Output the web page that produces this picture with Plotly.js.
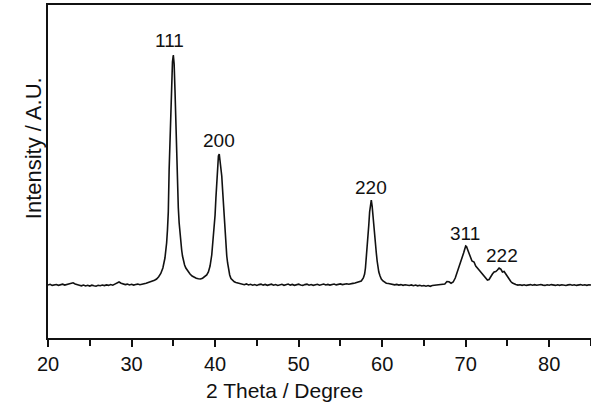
<!DOCTYPE html>
<html>
<head>
<meta charset="utf-8">
<script src="https://cdn.plot.ly/plotly-3.0.1.min.js"></script>
<style>html,body{margin:0;padding:0;background:#fff;}#chart{width:591px;height:413px;}</style>
</head>
<body>
<div id="chart"></div>
<script>
// 2 Theta (degree)
const twoTheta = [
20.00,20.25,20.50,20.75,21.00,21.25,21.50,21.75,22.00,22.25,22.50,22.75,23.00,23.25,23.50,23.75,
24.00,24.25,24.50,24.75,25.00,25.25,25.50,25.75,26.00,26.25,26.50,26.75,27.00,27.25,27.50,27.75,
28.00,28.25,28.50,28.75,29.00,29.25,29.50,29.75,30.00,30.25,30.50,30.75,31.00,31.25,31.50,31.75,
32.00,32.25,32.50,32.75,33.00,33.25,33.50,33.75,34.00,34.10,34.20,34.30,34.40,34.50,34.60,34.70,
34.80,34.90,35.00,35.10,35.20,35.30,35.40,35.50,35.60,35.70,35.80,35.90,36.00,36.10,36.20,36.35,
36.50,36.75,37.00,37.25,37.50,37.75,38.00,38.25,38.50,38.75,39.00,39.20,39.40,39.60,39.80,39.90,
40.00,40.10,40.20,40.30,40.40,40.50,40.60,40.70,40.80,40.90,41.00,41.10,41.20,41.30,41.40,41.50,
41.60,41.75,41.90,42.10,42.30,42.50,42.75,43.00,43.25,43.50,43.75,44.00,44.25,44.50,44.75,45.00,
45.25,45.50,45.75,46.00,46.25,46.50,46.75,47.00,47.25,47.50,47.75,48.00,48.25,48.50,48.75,49.00,
49.25,49.50,49.75,50.00,50.25,50.50,50.75,51.00,51.25,51.50,51.75,52.00,52.25,52.50,52.75,53.00,
53.25,53.50,53.75,54.00,54.25,54.50,54.75,55.00,55.25,55.50,55.75,56.00,56.25,56.50,56.75,57.00,
57.25,57.50,57.75,57.90,58.00,58.10,58.20,58.30,58.40,58.50,58.60,58.70,58.80,58.90,59.00,59.10,
59.20,59.30,59.40,59.50,59.60,59.75,59.90,60.10,60.30,60.50,60.75,61.00,61.25,61.50,61.75,62.00,
62.25,62.50,62.75,63.00,63.25,63.50,63.75,64.00,64.25,64.50,64.75,65.00,65.25,65.50,65.75,66.00,
66.25,66.50,66.75,67.00,67.25,67.50,67.75,68.00,68.25,68.50,68.75,69.00,69.25,69.50,69.75,70.00,
70.10,70.25,70.50,70.75,71.00,71.20,71.40,71.60,71.80,72.00,72.20,72.40,72.60,72.80,73.00,73.20,
73.40,73.60,73.80,74.00,74.20,74.40,74.60,74.80,75.00,75.20,75.40,75.60,75.80,76.00,76.25,76.50,
76.75,77.00,77.25,77.50,77.75,78.00,78.25,78.50,78.75,79.00,79.25,79.50,79.75,80.00,80.25,80.50,
80.75,81.00,81.25,81.50,81.75,82.00,82.25,82.50,82.75,83.00,83.25,83.50,83.75,84.00,84.25,84.50,
84.75,85.00
];
// Intensity (a.u.)
const intensity = [
530,537,526,534,535,527,533,538,529,535,540,546,552,540,530,528,
522,530,520,527,519,528,522,518,527,523,530,524,531,526,534,528,
539,552,560,547,540,534,539,531,537,529,535,539,533,541,543,548,
555,560,568,578,590,612,645,700,800,860,950,1080,1260,1680,2000,2300,
2560,2760,2830,2740,2480,2120,1700,1450,1300,1150,1030,950,880,820,770,730,
700,665,640,620,605,598,592,590,598,610,630,660,720,830,1000,1100,
1230,1400,1580,1730,1820,1840,1770,1700,1620,1480,1330,1180,1030,910,820,750,
680,630,595,575,562,555,548,544,538,533,541,530,537,528,535,526,
534,539,529,536,527,533,538,528,535,526,532,537,527,534,539,529,
536,527,533,538,530,526,534,539,528,535,527,533,537,528,534,539,
530,536,529,535,540,531,537,541,534,539,543,537,545,546,550,555,
560,570,600,640,700,790,880,1000,1130,1260,1350,1380,1320,1210,1100,1000,
930,850,770,710,660,620,590,570,558,548,545,540,536,531,536,529,
534,527,533,528,525,531,523,529,522,527,520,525,518,524,517,525,
527,532,528,535,531,540,565,562,548,560,600,660,710,780,850,920,
915,880,820,770,760,720,700,680,650,630,620,590,580,585,620,640,
660,665,680,700,690,660,665,640,610,580,565,550,540,535,529,533,
527,532,526,531,534,528,533,527,532,535,529,526,532,528,534,529,
526,532,527,533,528,525,531,534,528,532,526,531,534,528,532,527,
533,530
];
// Peak labels (Miller indices)
const peakLabels = ["111","200","220","311","222"];
const peakLabelX = [34.6, 40.47, 58.66, 69.9, 74.35];
const peakLabelY = [2980, 1980, 1510, 1050, 825];
const xTicks = [20,30,40,50,60,70,80];

const fontFam = "Liberation Sans, Arial, Helvetica, sans-serif";
const annotations = peakLabels.map((t,i)=>({
  x: peakLabelX[i], y: peakLabelY[i], xref:'x', yref:'y', text:t, showarrow:false,
  xanchor:'center', yanchor:'middle', font:{family:fontFam, size:19, color:'#111'}
}));
annotations.push({
  x: -0.0276, y: 0.57, xref:'paper', yref:'paper', text:'Intensity / A.U.', showarrow:false,
  textangle:-90, xanchor:'center', yanchor:'middle', font:{family:fontFam, size:22, color:'#111'}
});
annotations.push({
  x: 48.3, y: -0.159, xref:'x', yref:'paper', text:'2 Theta / Degree', showarrow:false,
  xanchor:'center', yanchor:'middle', font:{family:fontFam, size:21, color:'#111'}
});

const trace = {
  x: twoTheta, y: intensity, type:'scatter', mode:'lines',
  line:{color:'#111', width:1.6}, hoverinfo:'skip'
};
const layout = {
  width:591, height:413,
  margin:{l:48, r:0, t:5, b:75, pad:0},
  paper_bgcolor:'#fff', plot_bgcolor:'#fff',
  showlegend:false,
  font:{family:fontFam, color:'#111'},
  xaxis:{
    range:[20,85], tickmode:'array', tickvals:xTicks, ticktext:xTicks.map(String),
    ticks:'outside', ticklen:7, tickwidth:2, tickcolor:'#111',
    showline:true, linewidth:2, linecolor:'#111', mirror:true,
    showgrid:false, zeroline:false,
    tickfont:{family:fontFam, size:20, color:'#111'},
    minor:{tickmode:'linear', tick0:25, dtick:10, ticks:'outside', ticklen:6, tickwidth:2, tickcolor:'#111', showgrid:false}
  },
  yaxis:{
    range:[0,3330], showline:true, linewidth:2, linecolor:'#111', mirror:false,
    showticklabels:false, ticks:'', showgrid:false, zeroline:false
  },
  annotations: annotations
};
Plotly.newPlot('chart',[trace],layout,{staticPlot:true, displayModeBar:false});
</script>
</body>
</html>
